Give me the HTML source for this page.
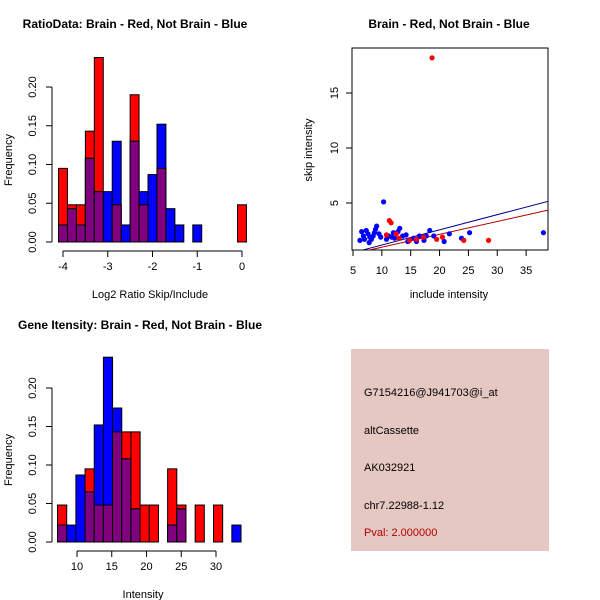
<!DOCTYPE html>
<html><head><meta charset="utf-8"><style>
html,body{margin:0;padding:0;background:#fff;width:600px;height:600px;overflow:hidden}
svg{display:block;font-family:"Liberation Sans",sans-serif}
</style></head><body>
<svg id="s" width="600" height="600" xmlns="http://www.w3.org/2000/svg">
<rect x="351" y="349" width="198" height="202" fill="#e6c8c2"/>
<g font-size="11" fill="#000">
<text x="364" y="396">G7154216@J941703@i_at</text>
<text x="364" y="434">altCassette</text>
<text x="364" y="471">AK032921</text>
<text x="364" y="509">chr7.22988-1.12</text>
<text x="364" y="536" fill="#b00000">Pval: 2.000000</text>
</g>
<g font-size="12" font-weight="bold" text-anchor="middle">
<text x="135" y="28">RatioData: Brain - Red, Not Brain - Blue</text>
<text x="449" y="28">Brain - Red, Not Brain - Blue</text>
<text x="140" y="329">Gene Itensity: Brain - Red, Not Brain - Blue</text>
</g>
</svg>
<script>
// Ratio histogram data
const ratioBinStart = -4.1, ratioBinWidth = 0.2;
const ratioRed  = [0.095,0.048,0.048,0.143,0.238,0,0.048,0,0.19,0.048,0,0.095,0,0,0,0,0,0,0,0,0.048];
const ratioBlue = [0.022,0.043,0.022,0.108,0.065,0.065,0.13,0.022,0.13,0.065,0.087,0.152,0.043,0.022,0,0.022,0,0,0,0,0];
const ratioXTicks = [-4,-3,-2,-1,0];
const freqTicks = [0,0.05,0.10,0.15,0.20];
const freqTickLabels = ["0.00","0.05","0.10","0.15","0.20"];
// Intensity histogram data
const intBinStart = 7.2, intBinWidth = 1.32;
const intRed  = [0.048,0,0,0.095,0.048,0.048,0.143,0.143,0.143,0.048,0.048,0,0.095,0.048,0,0.048,0,0.048,0,0];
const intBlue = [0.022,0.022,0.087,0.065,0.152,0.24,0.174,0.108,0.043,0,0,0,0.022,0.043,0,0,0,0,0,0.022];
const intXTicks = [10,15,20,25,30];
// Scatter data
const blueX = [6.2,6.5,7,7.3,7.6,7.9,8.2,8.5,8.9,9.1,9.5,10.3,10.8,11.2,12.2,12.8,13.1,13.6,14.2,15.5,16,16.5,17.3,18.3,19,20.8,21.7,23.8,25.2,38,7.8,9.8,12,14.5,17.7,6.8,8.7,11.7];
const blueY = [1.6,2.4,1.7,2.5,2.2,1.9,1.7,2.0,2.6,2.9,2.2,5.1,1.7,2.0,1.8,2.4,2.7,2.0,2.1,1.8,1.5,2.0,1.6,2.5,2.0,1.5,2.2,1.8,2.3,2.3,1.4,1.9,2.3,1.5,2.0,2.0,2.3,1.9];
const redX = [11.3,11.6,10.8,12.5,13,14.8,16,17.2,19.5,20.5,24.2,28.5,18.7];
const redY = [3.4,3.2,2.1,2.2,1.8,1.6,1.7,1.9,1.7,1.9,1.6,1.6,18.2];
const blueFit = [-0.2,0.138];
const redFit = [-0.19,0.117];
const scXTicks = [5,10,15,20,25,30,35];
const scYTicks = [5,10,15];

const S=document.getElementById('s'),NS='http://www.w3.org/2000/svg';
function mk(t,a,p){const e=document.createElementNS(NS,t);for(const k in a)e.setAttribute(k,a[k]);(p||S).appendChild(e);return e;}

function hist(red,blue,start,w,sx,sy,y0,pref){
  const g=mk('g',{});
  
  
  for(let i=0;i<red.length;i++){
    const x1=sx(start+i*w),x2=sx(start+(i+1)*w);
    const r=red[i],b=blue[i],m=Math.min(r,b);
    const draw=(v,c,n)=>{if(v<=0)return;const e=mk('rect',{x:x1,y:sy(v),width:x2-x1,height:y0-sy(v),fill:c,stroke:'#000','stroke-width':1},g);
      
      };
    if(r>b){draw(r,'#ff0000',pref+'-bar-red');}else{draw(b,'#0000ff',pref+'-bar-blue');}
    if(r>b){draw(b,'#0000ff',pref+'-bar-blue');}else{draw(r,'#ff0000',pref+'-bar-red');}
    draw(m,'#800080',pref+'-bar-overlap');
  }
}
function yAxis(ax,sy,ticks,labels,name){
  const g=mk('g',{stroke:'#000'});
  
  
  mk('line',{x1:ax,x2:ax,y1:sy(ticks[0]),y2:sy(ticks[ticks.length-1])},g);
  ticks.forEach((t,i)=>{const y=sy(t);mk('line',{x1:ax-6,x2:ax,y1:y,y2:y},g);
    const tx=mk('text',{x:ax-16,y:y,'font-size':11,'text-anchor':'middle',stroke:'none',fill:'#000',transform:`rotate(-90 ${ax-16} ${y})`},g);tx.textContent=labels[i];});
}
function xAxis(ay,sx,ticks,name){
  const g=mk('g',{stroke:'#000'});
  
  
  mk('line',{x1:sx(ticks[0]),x2:sx(ticks[ticks.length-1]),y1:ay,y2:ay},g);
  ticks.forEach(t=>{const x=sx(t);mk('line',{x1:x,x2:x,y1:ay,y2:ay+6},g);
    const tx=mk('text',{x:x,y:ay+19,'font-size':11,'text-anchor':'middle',stroke:'none',fill:'#000'},g);tx.textContent=String(t);});
}
function label(txt,x,y,rot,name){const t=mk('text',{x:x,y:y,'font-size':11,'text-anchor':'middle',transform:rot?`rotate(-90 ${x} ${y})`:''});t.textContent=txt;
  
  }

// Ratio histogram
{const sx=v=>63+(v+4)*44.75, sy=v=>242-v*775;
 hist(ratioRed,ratioBlue,ratioBinStart,ratioBinWidth,sx,sy,242,'ratio');
 yAxis(52,sy,freqTicks,freqTickLabels,'ratio-y-axis');
 xAxis(251,sx,ratioXTicks,'ratio-x-axis');
 label('Frequency',12,160,true,'ratio-y-title');
 label('Log2 Ratio Skip/Include',150,298,false,'ratio-x-title');}
// Intensity histogram
{const sx=v=>77+(v-10)*6.95, sy=v=>542-v*770;
 hist(intRed,intBlue,intBinStart,intBinWidth,sx,sy,542,'intensity');
 yAxis(52,sy,freqTicks,freqTickLabels,'intensity-y-axis');
 xAxis(551,sx,intXTicks,'intensity-x-axis');
 label('Frequency',12,460,true,'intensity-y-title');
 label('Intensity',143,598,false,'intensity-x-title');}
// Scatter
{const sx=v=>353+(v-5)*5.77, sy=v=>203-(v-5)*11;
 const box=mk('rect',{x:352,y:48,width:196,height:202,fill:'none',stroke:'#000'});
 
 
 const clip=mk('clipPath',{id:'cp'});mk('rect',{x:352,y:48,width:196,height:202},clip);
 const g=mk('g',{'clip-path':'url(#cp)'});
 
 
 const x0=4.8,x1=38.8;
 const lb=mk('line',{x1:sx(x0),y1:sy(blueFit[0]+blueFit[1]*x0),x2:sx(x1),y2:sy(blueFit[0]+blueFit[1]*x1),stroke:'#00008b'},g);
 
 
 const lr=mk('line',{x1:sx(x0),y1:sy(redFit[0]+redFit[1]*x0),x2:sx(x1),y2:sy(redFit[0]+redFit[1]*x1),stroke:'#b00000'},g);
 
 
 blueX.forEach((v,i)=>{const c=mk('circle',{cx:sx(v),cy:sy(blueY[i]),r:2.6,fill:'#0000ff'},g);
   
   });
 redX.forEach((v,i)=>{const c=mk('circle',{cx:sx(v),cy:sy(redY[i]),r:2.6,fill:'#ff0000'},g);
   
   });
 const ya=mk('g',{stroke:'#000'});
 
 
 scYTicks.forEach(t=>{const y=sy(t);mk('line',{x1:346,x2:352,y1:y,y2:y},ya);
   const tx=mk('text',{x:338,y:y,'font-size':11,'text-anchor':'middle',stroke:'none',fill:'#000',transform:`rotate(-90 338 ${y})`},ya);tx.textContent=String(t);});
 const xa=mk('g',{stroke:'#000'});
 
 
 scXTicks.forEach(t=>{const x=sx(t);mk('line',{x1:x,x2:x,y1:250,y2:256},xa);
   const tx=mk('text',{x:x,y:274,'font-size':11,'text-anchor':'middle',stroke:'none',fill:'#000'},xa);tx.textContent=String(t);});
 label('skip intensity',312,150,true,'scatter-y-title');
 label('include intensity',449,298,false,'scatter-x-title');}
</script>
</body></html>
